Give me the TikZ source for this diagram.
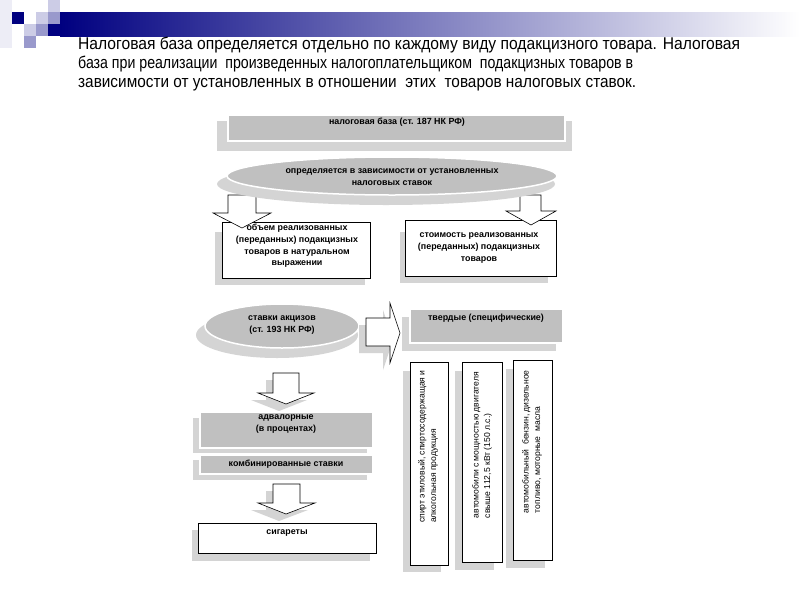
\documentclass[tikz,border=0pt]{standalone}
\usepackage{graphicx}
\usepackage{fontspec}
\setmainfont{Liberation Sans}
\newfontfamily\headfont[FakeStretch=0.85]{Liberation Sans}
\newcommand\fitline[2]{\resizebox{#1}{\height}{#2}}
\definecolor{boxgray}{HTML}{C0C0C0}
\definecolor{shadowgray}{HTML}{D4D4D4}
\definecolor{navybar}{HTML}{000080}
\definecolor{sqnavy}{HTML}{000080}
\definecolor{sqmed}{HTML}{9999CC}
\definecolor{sqlight}{HTML}{CCCCE6}
\definecolor{sqfaint}{HTML}{EDEDF6}
\tikzset{
  shadowfill/.style={fill=shadowgray, draw=none},
  graybox/.style={fill=boxgray, draw=white, line width=1.5pt},
  whitebox/.style={fill=white, draw=black, line width=0.8pt},
  blockarrow/.style={fill=white, draw=black, line width=0.6pt},
  lbl/.style={font=\fontsize{8.9}{11.7}\selectfont\bfseries, align=center, inner sep=0pt},
  vlbl/.style={font=\fontsize{8.6}{11.5}\selectfont, align=left, inner sep=0pt, rotate=90, anchor=east},
  headline/.style={font=\headfont\fontsize{17}{20}\selectfont, anchor=base west, inner sep=0pt}
}
\begin{document}
\begin{tikzpicture}[x=1pt,y=-1pt]
\useasboundingbox (0,0) rectangle (800,600);
\fill[white] (0,0) rectangle (800,600);
% header decoration
\shade[left color=navybar, right color=white] (60,12) rectangle (800,36);
\fill[sqfaint] (0,0) rectangle (12,48);
\fill[sqlight] (48,0) rectangle (60,12);
\fill[sqnavy] (12,12) rectangle (24,24);
\fill[sqlight] (36,12) rectangle (48,24);
\fill[sqmed] (48,12) rectangle (60,24);
\fill[sqlight] (24,24) rectangle (36,36);
\fill[sqmed] (36,24) rectangle (48,36);
\fill[sqnavy] (48,24) rectangle (60,36);
\fill[sqmed] (24,36) rectangle (36,48);
% heading
\node[headline] (h1) at (78,49) {\fitline{662pt}{Налоговая база определяется отдельно по каждому виду подакцизного товара. Налоговая}};
\node[headline] (h2) at (78,68) {\fitline{555pt}{база при реализации\ \ произведенных налогоплательщиком\ \ подакцизных товаров в}};
\node[headline] (h3) at (78,87) {\fitline{558pt}{зависимости от установленных в отношении\ \ этих\ \ товаров налоговых ставок.}};
% top box
\fill[shadowfill] (217,121) rectangle (572,151);
\draw[graybox] (228,115) rectangle (565,141);
\node[lbl, anchor=north] (base) at (397,118) {налоговая база (ст. 187 НК РФ)};
% row 1 boxes
\fill[shadowfill] (215,232) rectangle (365,285);
\draw[whitebox] (222,222) rectangle (370,278);
\fill[shadowfill] (400,232) rectangle (548,283);
\draw[whitebox] (405,220) rectangle (556,276);
% row 1 arrows
\draw[blockarrow] (228,195) -- (256,195) -- (256,213) -- (271,213) -- (242,228) -- (213,213) -- (228,213) -- cycle;
\draw[blockarrow] (520,195) -- (541,195) -- (541,211) -- (556,211) -- (531,225) -- (506,211) -- (520,211) -- cycle;
\node[lbl] (vol) at (297,246) {объем реализованных\\(переданных) подакцизных\\товаров в натуральном\\выражении};
\node[lbl] (cost) at (479,248) {стоимость реализованных\\(переданных) подакцизных\\товаров};
% ellipse 1
\fill[shadowfill] (386,184) ellipse [x radius=169, y radius=21];
\draw[graybox] (392,176) ellipse [x radius=165, y radius=19];
\node[lbl] (dep) at (392,177) {определяется в зависимости от установленных\\налоговых ставок};
% ellipse 2
\fill[shadowfill] (277,335) ellipse [x radius=81, y radius=23];
\draw[graybox] (282,326) ellipse [x radius=77, y radius=22];
\node[lbl] (rates) at (282,325) {ставки акцизов\\(ст. 193 НК РФ)};
% horizontal arrow
\fill[shadowfill] (359,325) -- (383,325) -- (383,310) -- (393,340) -- (383,370) -- (383,353) -- (359,353) -- cycle;
\draw[blockarrow] (366,318) -- (390,318) -- (390,303) -- (400,333) -- (390,363) -- (390,346) -- (366,346) -- cycle;
% fixed box
\fill[shadowfill] (402,317) rectangle (556,351);
\draw[graybox] (410,309) rectangle (563,343);
\node[lbl, anchor=north] (fixed) at (486,314) {твердые (специфические)};
% down arrow 1
\fill[shadowfill] (266,380) -- (292,380) -- (292,400) -- (307,400) -- (279,411) -- (251,400) -- (266,400) -- cycle;
\draw[blockarrow] (273,373) -- (299,373) -- (299,393) -- (314,393) -- (286,404) -- (258,393) -- (273,393) -- cycle;
% ad valorem + combined
\fill[shadowfill] (193,418) rectangle (367,453);
\draw[graybox] (200,412) rectangle (373,448);
\node[lbl] (adval) at (286,424) {адвалорные\\(в процентах)};
\fill[shadowfill] (193,460) rectangle (367,480);
\draw[graybox] (200,455) rectangle (373,474);
\node[lbl] (comb) at (286,464) {комбинированные ставки};
% down arrow 2
\fill[shadowfill] (266,491) -- (293,491) -- (293,510) -- (308,510) -- (279,521) -- (251,510) -- (266,510) -- cycle;
\draw[blockarrow] (273,484) -- (300,484) -- (300,503) -- (315,503) -- (286,514) -- (258,503) -- (273,503) -- cycle;
% cigarettes
\fill[shadowfill] (192,530) rectangle (370,561);
\draw[whitebox] (198,523) rectangle (376,553);
\node[lbl, anchor=north] (cig) at (287,529) {сигареты};
% vertical boxes
\fill[shadowfill] (403,371) rectangle (441,572);
\draw[whitebox] (410,362) rectangle (448,565);
\node[vlbl] (alc) at (428,370) {спирт этиловый, спиртосодержащая и\\алкогольная продукция};
\fill[shadowfill] (455,371) rectangle (494,570);
\draw[whitebox] (462,362) rectangle (502,562);
\node[vlbl] (cars) at (482,372) {автомобили с мощностью двигателя\\свыше 112,5 кВт (150 л.с.)};
\fill[shadowfill] (506,369) rectangle (545,568);
\draw[whitebox] (513,360) rectangle (552,560);
\node[vlbl] (fuel) at (532,370) {автомобильный\ \ бензин, дизельное\\топливо,\ моторные\ \ масла};
\end{tikzpicture}
\end{document}
